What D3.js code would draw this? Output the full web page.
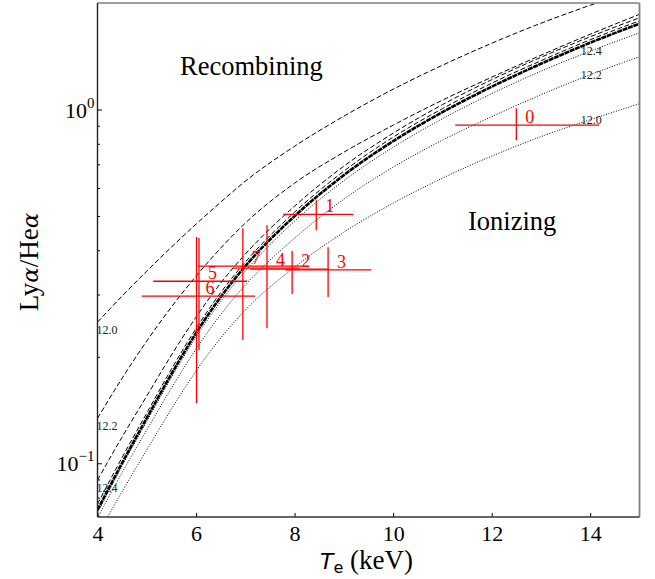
<!DOCTYPE html>
<html>
<head>
<meta charset="utf-8">
<script src="https://cdn.jsdelivr.net/npm/d3@7"></script>
<style>
  body { margin: 0; background: #fff; }
  text { font-family: "Liberation Serif", "Times New Roman", serif; }
</style>
</head>
<body>
<svg id="chart" width="655" height="579"></svg>
<script>
// electron temperature grid (keV)
var temps = [4, 4.5, 5, 5.5, 6, 6.5, 7, 8, 9, 10, 11, 12, 13, 14, 15];

// Lya/Hea ratio, CIE (thick line)
var cie = [0.0738, 0.1002, 0.1343, 0.1788, 0.2334, 0.2950, 0.3608, 0.4995, 0.6524, 0.8138, 0.9827, 1.1598, 1.3467, 1.5441, 1.7472];

// recombining plasma, log(n_e t) = 12.0, 12.2, 12.4 and one close to CIE (dashed)
var recomb120 = [0.2506, 0.2970, 0.3493, 0.4083, 0.4742, 0.5471, 0.6271, 0.7873, 0.9574, 1.1411, 1.3339, 1.5390, 1.7530, 1.9710, 2.2020];
var recomb122 = [0.134, 0.174, 0.2216, 0.2764, 0.338, 0.4057, 0.4774, 0.6192, 0.7575, 0.9029, 1.0624, 1.234, 1.4235, 1.632, 1.858];
var recomb124 = [0.0897, 0.1187, 0.1549, 0.2022, 0.2589, 0.3230, 0.3902, 0.5331, 0.6916, 0.8571, 1.0318, 1.2139, 1.4049, 1.6058, 1.8170];
var recomb126 = [0.0767, 0.1039, 0.1387, 0.1846, 0.2403, 0.3038, 0.3704, 0.5128, 0.6695, 0.8352, 1.0053, 1.1866, 1.3735, 1.5746, 1.7816];

// ionizing plasma (dotted)
var ioniz124 = [0.0724, 0.0983, 0.1312, 0.1748, 0.2274, 0.2866, 0.3493, 0.4836, 0.6294, 0.7823, 0.9419, 1.1081, 1.2832, 1.4612, 1.6476];
var ioniz122 = [0.0700, 0.0942, 0.1242, 0.1632, 0.2103, 0.2633, 0.3190, 0.4329, 0.5579, 0.6871, 0.8190, 0.9543, 1.1010, 1.2539, 1.4099];
var ioniz120 = [0.0627, 0.0832, 0.1091, 0.1423, 0.1823, 0.2259, 0.2711, 0.3584, 0.4500, 0.5436, 0.6396, 0.7381, 0.8381, 0.9358, 1.0385];

// observed points: id, Te, Te low, Te high, ratio, ratio low, ratio high
var pointIds  = ["0", "1", "2", "3", "4", "5", "6", "7"];
var pointTe   = [12.50, 8.44, 7.95, 8.68, 7.44, 6.06, 6.01, 6.95];
var pointTeLo = [11.26, 7.77, 7.10, 7.81, 6.75, 5.13, 4.90, 6.05];
var pointTeHi = [14.18, 9.19, 8.70, 9.56, 8.10, 7.04, 7.20, 8.15];
var pointR    = [0.903, 0.505, 0.354, 0.352, 0.356, 0.327, 0.297, 0.361];
var pointRLo  = [0.819, 0.456, 0.301, 0.295, 0.241, 0.209, 0.148, 0.223];
var pointRHi  = [1.0085, 0.554, 0.398, 0.408, 0.471, 0.433, 0.436, 0.462];

var xTicks = [4, 6, 8, 10, 12, 14];

var svg = d3.select("#chart");
var margin = {left: 97.5, top: 3, right: 15.5, bottom: 62};
var W = 655, H = 579;

var x = d3.scaleLinear().domain([4, 15]).range([margin.left, W - margin.right]);
var y = d3.scaleLog().domain([0.0705, 2.0]).range([H - margin.bottom, margin.top]);

svg.append("clipPath").attr("id", "plotclip")
  .append("rect")
  .attr("x", x(4)).attr("y", y(2.0))
  .attr("width", x(15) - x(4)).attr("height", y(0.0705) - y(2.0));

var plot = svg.append("g").attr("clip-path", "url(#plotclip)");

var line = d3.line()
  .curve(d3.curveMonotoneX)
  .x(function(d) { return x(d[0]); })
  .y(function(d) { return y(d[1]); });

function pairs(vals) {
  return temps.map(function(t, i) { return [t, vals[i]]; });
}

var curves = [
  {vals: recomb120, dash: "5,2.5", width: 1},
  {vals: recomb122, dash: "5,2.5", width: 1},
  {vals: recomb124, dash: "5,2.5", width: 1},
  {vals: recomb126, dash: "5,2.5", width: 1},
  {vals: ioniz124, dash: "1,1.6", width: 1},
  {vals: ioniz122, dash: "1,1.6", width: 1},
  {vals: ioniz120, dash: "1,1.6", width: 1},
  {vals: cie, dash: "5,0.7", width: 2.6}
];

plot.selectAll("path.curve").data(curves).enter()
  .append("path")
  .attr("class", "curve")
  .attr("d", function(c) { return line(pairs(c.vals)); })
  .attr("fill", "none")
  .attr("stroke", "#000")
  .attr("stroke-width", function(c) { return c.width; })
  .attr("stroke-dasharray", function(c) { return c.dash; });

// curve labels
var leftLabels = [
  {txt: "12.0", v: recomb120[0]},
  {txt: "12.2", v: recomb122[0]},
  {txt: "12.4", v: recomb124[0]}
];
plot.selectAll("text.llab").data(leftLabels).enter()
  .append("text")
  .attr("class", "llab")
  .attr("x", x(4) - 1)
  .attr("y", function(d) { return y(d.v) + 12; })
  .attr("font-size", 12)
  .attr("fill", "#222")
  .text(function(d) { return d.txt; });

var rightLabels = [
  {txt: "12.4", v: ioniz124[13]},
  {txt: "12.2", v: ioniz122[13]},
  {txt: "12.0", v: ioniz120[13]}
];
plot.selectAll("text.rlab").data(rightLabels).enter()
  .append("text")
  .attr("class", "rlab")
  .attr("x", x(14) + 1)
  .attr("y", function(d) { return y(d.v) + 4; })
  .attr("text-anchor", "middle")
  .attr("font-size", 12)
  .attr("fill", "#222")
  .text(function(d) { return d.txt; });

// error bars
var pts = pointIds.map(function(id, i) {
  return {id: id, t: pointTe[i], tlo: pointTeLo[i], thi: pointTeHi[i],
          r: pointR[i], rlo: pointRLo[i], rhi: pointRHi[i]};
});
var eb = plot.selectAll("g.pt").data(pts).enter().append("g").attr("class", "pt");
eb.append("line")
  .attr("x1", function(d) { return x(d.tlo); })
  .attr("x2", function(d) { return x(d.thi); })
  .attr("y1", function(d) { return y(d.r); })
  .attr("y2", function(d) { return y(d.r); })
  .attr("stroke", "#ff0000").attr("stroke-width", 1.3);
eb.append("line")
  .attr("x1", function(d) { return x(d.t); })
  .attr("x2", function(d) { return x(d.t); })
  .attr("y1", function(d) { return y(d.rlo); })
  .attr("y2", function(d) { return y(d.rhi); })
  .attr("stroke", "#ff0000").attr("stroke-width", 1.3);
eb.append("text")
  .attr("x", function(d) { return x(d.t) + 9; })
  .attr("y", function(d) { return y(d.r) - 2; })
  .attr("font-size", 18)
  .attr("fill", "#ff0000")
  .text(function(d) { return d.id; });

// axes
var xAxis = d3.axisBottom(x).tickValues(xTicks).tickSize(-4).tickPadding(8).tickFormat(d3.format("d"));
var gx = svg.append("g").attr("transform", "translate(0," + y(0.0705) + ")").call(xAxis);
gx.select(".domain").remove();
gx.selectAll("text").attr("font-size", 22).attr("font-family", "Liberation Serif, serif").attr("fill", "#000");
gx.selectAll("line").attr("stroke", "#000");

var minorVals = [0.08, 0.09, 0.2, 0.3, 0.4, 0.5, 0.6, 0.7, 0.8, 0.9];
var yAxis = d3.axisLeft(y).tickValues([0.1, 1]).tickSize(-4.5).tickFormat(function() { return ""; });
var gy = svg.append("g").attr("transform", "translate(" + x(4) + ",0)").call(yAxis);
gy.select(".domain").remove();
gy.selectAll("line").attr("stroke", "#000");
var yMinor = d3.axisLeft(y).tickValues(minorVals).tickSize(-2.5).tickFormat(function() { return ""; });
var gym = svg.append("g").attr("transform", "translate(" + x(4) + ",0)").call(yMinor);
gym.select(".domain").remove();
gym.selectAll("line").attr("stroke", "#000");

// y tick labels as powers of ten
var yLab = [{v: 1, exp: "0"}, {v: 0.1, exp: "\u22121"}];
yLab.forEach(function(d) {
  var t = svg.append("text")
    .attr("x", x(4) - 3)
    .attr("y", y(d.v) + 8)
    .attr("text-anchor", "end")
    .attr("font-size", 22);
  t.append("tspan").text("10");
  t.append("tspan").attr("dy", -10).attr("font-size", 15).text(d.exp);
});

// frame
var fx0 = x(4), fx1 = x(15), fy0 = y(2.0), fy1 = y(0.0705);
svg.append("line").attr("x1", fx0).attr("x2", fx1).attr("y1", fy0).attr("y2", fy0)
  .attr("stroke", "#808080").attr("stroke-width", 1.5);
svg.append("line").attr("x1", fx1).attr("x2", fx1).attr("y1", fy0).attr("y2", fy1)
  .attr("stroke", "#808080").attr("stroke-width", 1.8);
svg.append("line").attr("x1", fx0).attr("x2", fx0).attr("y1", fy0).attr("y2", fy1)
  .attr("stroke", "#222").attr("stroke-width", 1.4);
svg.append("line").attr("x1", fx0).attr("x2", fx1).attr("y1", fy1).attr("y2", fy1)
  .attr("stroke", "#333").attr("stroke-width", 1.4);

// region annotations
svg.append("text").attr("x", 180).attr("y", 75).attr("font-size", 26.5).text("Recombining");
svg.append("text").attr("x", 468).attr("y", 230).attr("font-size", 26.5).text("Ionizing");

// axis titles
var xt = svg.append("text").attr("x", 320).attr("y", 569).attr("font-size", 27);
xt.append("tspan").attr("font-family", "DejaVu Sans, sans-serif").attr("font-style", "oblique").attr("font-size", 22).text("T");
xt.append("tspan").attr("font-family", "DejaVu Sans, sans-serif").attr("font-size", 16).attr("dy", 4).text("e");
xt.append("tspan").attr("dy", -4).text(" (keV)");

var yt = svg.append("text")
  .attr("transform", "translate(38,262) rotate(-90)")
  .attr("text-anchor", "middle")
  .attr("font-size", 27);
yt.append("tspan").text("Ly");
yt.append("tspan").attr("font-family", "DejaVu Serif, serif").attr("font-style", "italic").attr("font-size", 23).text("\u03b1");
yt.append("tspan").text("/He");
yt.append("tspan").attr("font-family", "DejaVu Serif, serif").attr("font-style", "italic").attr("font-size", 23).text("\u03b1");
</script>
</body>
</html>
